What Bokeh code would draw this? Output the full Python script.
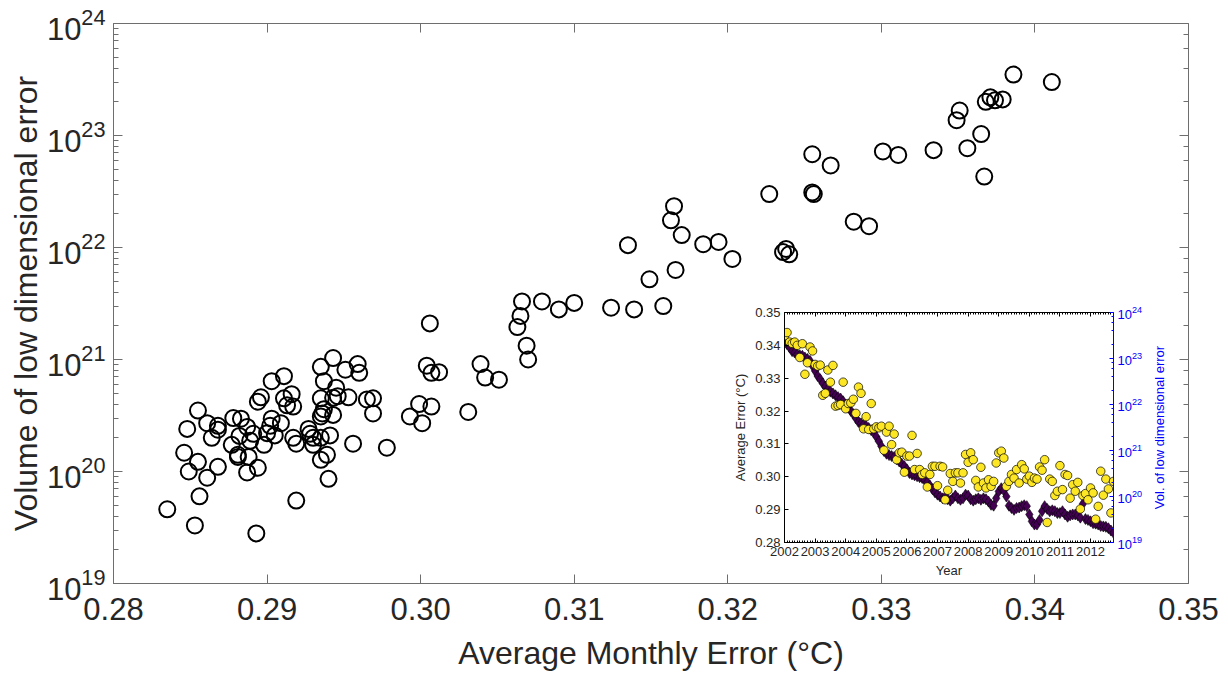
import math
from bokeh.plotting import figure
from bokeh.models import (Range1d, LogAxis, LinearAxis, FixedTicker, PrintfTickFormatter,
                          LogScale, LogTicker)
from bokeh.core.properties import value
from bokeh.embed import file_html
from bokeh.resources import INLINE

# ---------------- main scatter data ----------------
main_err = [
    0.2835, 0.2853, 0.2856, 0.2893, 0.2919, 0.2940, 0.2849, 0.2861, 0.2868, 0.2846,
    0.2855, 0.2848, 0.2855, 0.2861, 0.2868, 0.2868, 0.2864, 0.2878, 0.2883, 0.2887,
    0.2891, 0.2882, 0.2889, 0.2877, 0.2881, 0.2881, 0.2888, 0.2887, 0.2894, 0.2898,
    0.2894, 0.2896, 0.2903, 0.2911, 0.2911, 0.2916, 0.2913, 0.2917, 0.2903, 0.2902,
    0.2900, 0.2905, 0.2909, 0.2917, 0.2919, 0.2927, 0.2928, 0.2930, 0.2930, 0.2935,
    0.2941, 0.2935, 0.2943, 0.2937, 0.2945, 0.2935, 0.2943, 0.2946, 0.2937, 0.2936,
    0.2935, 0.2943, 0.2951, 0.2959, 0.2960, 0.2953, 0.2965, 0.2969, 0.2969, 0.2956,
    0.2978, 0.2939, 0.2935, 0.2993, 0.2999,
    0.3006, 0.3004, 0.3007, 0.3012, 0.3007, 0.3031, 0.3001, 0.3039, 0.3042, 0.3051,
    0.3066, 0.3065, 0.3063, 0.3069, 0.3070, 0.3079, 0.3090, 0.3100, 0.3124, 0.3139,
    0.3158, 0.3135, 0.3165, 0.3163, 0.3170, 0.3184, 0.3194, 0.3203, 0.3166, 0.3149,
    0.3227, 0.3236, 0.3238, 0.3240,
    0.3386, 0.3411, 0.3368, 0.3371, 0.3374, 0.3379, 0.3351, 0.3349, 0.3365, 0.3356,
    0.3334, 0.3301, 0.3311, 0.3255, 0.3267, 0.3255, 0.3256, 0.3367, 0.3282, 0.3292,
]
main_vol = [
    4.6e19, 3.3e19, 6.0e19, 2.8e19, 5.5e19, 8.6e19, 1.0e20, 8.8e19, 1.1e20, 1.47e20,
    1.22e20, 2.4e20, 3.5e20, 2.7e20, 2.56e20, 2.36e20, 2.0e20, 3.0e20, 2.96e20, 2.5e20,
    2.17e20, 2.08e20, 1.88e20, 1.73e20, 1.41e20, 1.35e20, 1.35e20, 9.8e19, 1.08e20, 1.73e20,
    4.2e20, 4.6e20, 6.4e20, 7.1e20, 4.5e20, 4.9e20, 3.9e20, 3.8e20, 2.96e20, 2.56e20,
    2.2e20, 2.1e20, 2.7e20, 2.0e20, 1.77e20, 2.4e20, 2.17e20, 2.0e20, 1.73e20, 2.0e20,
    2.1e20, 8.6e20, 1.03e21, 6.4e20, 5.6e20, 4.5e20, 4.55e20, 4.7e20, 3.6e20, 3.3e20,
    3.1e20, 3.2e20, 8.1e20, 9.1e20, 7.6e20, 4.6e20, 4.4e20, 4.5e20, 3.3e20, 1.77e20,
    1.63e20, 1.41e20, 1.27e20, 3.1e20, 4.0e20,
    2.1e21, 8.8e20, 7.6e20, 7.7e20, 3.8e20, 3.4e20, 2.7e20, 9.1e20, 6.9e20, 6.6e20,
    3.3e21, 2.45e21, 1.95e21, 1.33e21, 1.0e21, 3.3e21, 2.8e21, 3.2e21, 2.9e21, 2.8e21,
    3.0e21, 1.05e22, 2.34e22, 1.75e22, 1.29e22, 1.07e22, 1.12e22, 7.9e21, 6.3e21, 5.2e21,
    3.0e22, 9.1e21, 9.7e21, 8.7e21,
    3.5e23, 3.0e23, 2.0e23, 2.19e23, 2.06e23, 2.1e23, 1.67e23, 1.37e23, 1.03e23, 7.7e22,
    7.4e22, 7.2e22, 6.7e22, 6.8e22, 5.4e22, 3.1e22, 3.0e22, 4.3e22, 1.7e22, 1.55e22,
]
main_xticks = [0.28, 0.29, 0.30, 0.31, 0.32, 0.33, 0.34, 0.35]

# ---------------- inset data (monthly, Jan 2002 onwards) ----------------
inset_avg_error = [
    0.3429, 0.3439, 0.3410, 0.3406, 0.3410, 0.3400, 0.3363, 0.3405, 0.3312, 0.3347,
    0.3395, 0.3383, 0.3342, 0.3337, 0.3340, 0.3248, 0.3254, 0.3325, 0.3288, 0.3339,
    0.3215, 0.3217, 0.3220, 0.3288, 0.3207, 0.3223, 0.3225, 0.3236, 0.3193, 0.3273,
    0.3254, 0.3146, 0.3183, 0.3144, 0.3223, 0.3146, 0.3152, 0.3149, 0.3154, 0.3081,
    0.3136, 0.3154, 0.3098, 0.3130, 0.3052, 0.3073, 0.3075, 0.3014, 0.3063, 0.3063,
    0.3126, 0.3022, 0.3071, 0.3022, 0.3007, 0.3012, 0.2969, 0.3007, 0.3032, 0.3032,
    0.2973, 0.3032, 0.3030, 0.2930, 0.2959, 0.3010, 0.2986, 0.3012, 0.3012, 0.2981,
    0.3012, 0.3068, 0.3044, 0.3073, 0.3052, 0.2989, 0.2969, 0.3029, 0.2981, 0.2966,
    0.2991, 0.2971, 0.2986, 0.3042, 0.3073, 0.3078, 0.3057, 0.2971, 0.2986, 0.3007,
    0.2996, 0.3022, 0.2981, 0.3037, 0.3024, 0.2993, 0.3002, 0.2983, 0.2996, 0.2993,
    0.3030, 0.3020, 0.3052, 0.2861, 0.2993, 0.2986, 0.2943, 0.2956, 0.3034, 0.2961,
    0.3007, 0.3004, 0.2935, 0.2976, 0.2956, 0.2983, 0.2902, 0.2943, 0.2949, 0.2930,
    0.2966, 0.2951, 0.2871, 0.2910, 0.3017, 0.2944, 0.2993, 0.2963, 0.2890, 0.2986,
]
# log10 of the volume of low dimensional error
inset_log_volume = [
    23.39, 23.31, 23.24, 23.16, 23.13, 23.09, 23.07, 23.06, 23.02, 22.99,
    22.95, 22.84, 22.73, 22.62, 22.55, 22.46, 22.39, 22.33, 22.28, 22.24,
    22.20, 22.16, 22.13, 22.07, 22.00, 21.93, 21.86, 21.79, 21.70, 21.62,
    21.59, 21.56, 21.53, 21.49, 21.44, 21.39, 21.30, 21.20, 21.09, 20.99,
    20.93, 20.90, 20.88, 20.86, 20.81, 20.76, 20.71, 20.66, 20.59, 20.51,
    20.48, 20.46, 20.44, 20.42, 20.40, 20.36, 20.31, 20.24, 20.16, 20.09,
    20.04, 20.00, 19.96, 19.99, 19.94, 19.91, 19.96, 20.02, 19.96, 19.93,
    19.96, 20.04, 20.02, 19.94, 19.91, 19.94, 19.96, 19.93, 19.96, 19.94,
    19.89, 19.82, 19.80, 19.96, 20.11, 20.18, 20.13, 20.00, 19.80, 19.75,
    19.71, 19.75, 19.76, 19.79, 19.81, 19.79, 19.61, 19.46, 19.39, 19.39,
    19.49, 19.68, 19.79, 19.73, 19.68, 19.70, 19.68, 19.64, 19.64, 19.68,
    19.61, 19.56, 19.59, 19.61, 19.61, 19.59, 19.54, 19.84, 19.51, 19.49,
    19.46, 19.42, 19.41, 19.39, 19.36, 19.35, 19.34, 19.31, 19.26, 19.21,
]
inset_years = [2002 + i / 12.0 for i in range(len(inset_avg_error))]
inset_year_ticks = list(range(2002, 2013))
inset_err_ticks = [0.28, 0.29, 0.30, 0.31, 0.32, 0.33, 0.34, 0.35]
inset_volume = [10 ** v for v in inset_log_volume]
inset_right_title = ["Vol. of low dimensional error"]

FONT = "Liberation Sans"
TXT = "#262626"
AX = "#6e6e6e"
BLUE = "#0000ff"


def style_axis(ax, color, tick_in, minor_in, lab_size, title_size):
    ax.axis_line_color = color
    ax.major_tick_line_color = color
    ax.minor_tick_line_color = color
    ax.major_tick_in = tick_in
    ax.major_tick_out = 0
    ax.minor_tick_in = minor_in
    ax.minor_tick_out = 0
    ax.major_label_text_font = FONT
    ax.major_label_text_font_size = lab_size
    ax.major_label_text_color = TXT
    ax.axis_label_text_font = FONT
    ax.axis_label_text_font_size = title_size
    ax.axis_label_text_color = TXT
    ax.axis_label_text_font_style = "normal"


def hide_labels(ax):
    ax.major_label_text_color = None
    ax.major_label_text_font_size = "2px"
    ax.major_label_standoff = 0


# ---------------- main figure ----------------
p = figure(width=1228, height=673, x_range=Range1d(0.28, 0.35), y_range=Range1d(1e19, 1e24),
           y_axis_type="log", output_backend="svg", toolbar_location=None,
           min_border_left=113, min_border_right=40, min_border_top=23, min_border_bottom=90,
           background_fill_color="white", border_fill_color="white", outline_line_color=None,
           styles={"position": "absolute", "left": "0px", "top": "0px"})
p.grid.visible = False

bottom = p.below[0]
left = p.left[0]
bottom.ticker = FixedTicker(ticks=main_xticks)
bottom.formatter = PrintfTickFormatter(format="%.2f")
bottom.axis_label = "Average Monthly Error (°C)"
left.axis_label = "Volume of low dimensional error"

top_ax = LinearAxis(ticker=FixedTicker(ticks=main_xticks))
right_ax = LogAxis(ticker=LogTicker())
p.add_layout(top_ax, "above")
p.add_layout(right_ax, "right")

for ax in [bottom, left, top_ax, right_ax]:
    style_axis(ax, AX, 9, 5, "31px", "32px")
hide_labels(top_ax)
hide_labels(right_ax)
bottom.minor_tick_line_color = None
top_ax.minor_tick_line_color = None
bottom.major_label_standoff = 14
left.major_label_standoff = 8
bottom.axis_label_standoff = 12
left.axis_label_standoff = 0

p.scatter(main_err, main_vol, marker="circle", size=16, fill_color=None,
          line_color="black", line_width=2)

# ---------------- inset figure ----------------
q = figure(width=440, height=282, x_range=Range1d(2002, inset_years[-1]), y_range=Range1d(0.28, 0.35),
           output_backend="svg", toolbar_location=None,
           min_border_left=52, min_border_right=57, min_border_top=12, min_border_bottom=40,
           background_fill_color="white", border_fill_color=None, outline_line_color=None,
           styles={"position": "absolute", "left": "730px", "top": "300px"})
q.grid.visible = False
q.extra_y_ranges = {"vol": Range1d(1e19, 1e24)}
q.extra_y_scales = {"vol": LogScale()}

qb = q.below[0]
ql = q.left[0]
qb.ticker = FixedTicker(ticks=inset_year_ticks, minor_ticks=inset_years)
qb.formatter = PrintfTickFormatter(format="%d")
qb.axis_label = "Year"
ql.ticker = FixedTicker(ticks=inset_err_ticks)
ql.formatter = PrintfTickFormatter(format="%.2f")
ql.axis_label = "Average Error (°C)"

q_top = LinearAxis(ticker=FixedTicker(ticks=inset_year_ticks, minor_ticks=inset_years))
q.add_layout(q_top, "above")
q_right = LogAxis(y_range_name="vol", ticker=LogTicker())
q.add_layout(q_right, "right")

for ax in [qb, ql, q_top]:
    style_axis(ax, "black", 4, 2, "13px", "13px")
style_axis(q_right, BLUE, 4, 2, "13px", "13px")
q_right.major_label_text_color = BLUE
hide_labels(q_top)
ql.minor_tick_line_color = None
for ax in [qb, ql, q_right]:
    ax.major_label_standoff = 4
    ax.axis_label_standoff = 4

q.scatter(inset_years, inset_volume, y_range_name="vol", marker="diamond", size=11,
          fill_color="#440154", line_color="black", line_width=0.6)
q.scatter(inset_years, inset_avg_error, marker="circle", size=8.5,
          fill_color="#FDE725", line_color="black", line_width=0.7)

# ---------------- right-hand title of the inset (reads bottom-to-top) ----------------
t = figure(width=20, height=240, x_range=Range1d(0, 1), y_range=Range1d(0, 1),
           output_backend="svg", toolbar_location=None, min_border=0,
           background_fill_color=None, border_fill_color=None, outline_line_color=None,
           styles={"position": "absolute", "left": "1149px", "top": "307px"})
t.axis.visible = False
t.grid.visible = False
t.text(x=[0.5], y=[0.5], text=inset_right_title, angle=math.pi / 2,
       text_align="center", text_baseline="middle", text_font=value(FONT),
       text_font_size="13px", text_color=BLUE)

open("out.html", "w").write(file_html([p, q, t], INLINE))
